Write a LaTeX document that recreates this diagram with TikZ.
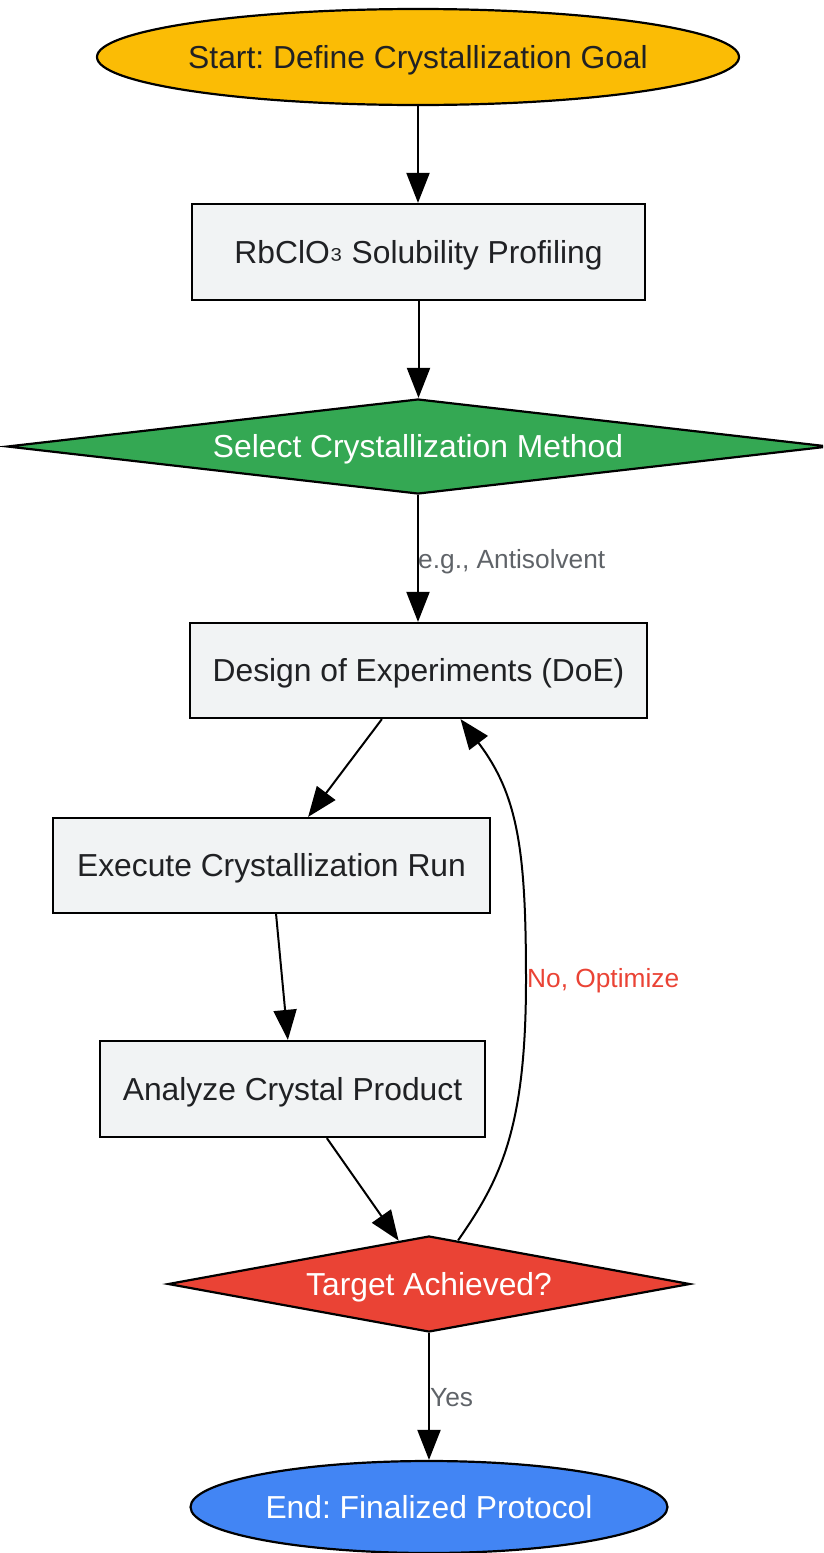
\documentclass[tikz,border=0pt]{standalone}
\usepackage{fontspec}
\setmainfont{Liberation Sans}
\usetikzlibrary{shapes.geometric,arrows.meta,calc}
\frenchspacing
\definecolor{cyellow}{HTML}{FBBC05}
\definecolor{cgreen}{HTML}{34A853}
\definecolor{cred}{HTML}{EA4335}
\definecolor{cblue}{HTML}{4285F4}
\definecolor{cbox}{HTML}{F1F3F4}
\definecolor{ctext}{HTML}{202124}
\definecolor{clabel}{HTML}{5F6368}
\tikzset{
  base/.style={draw=black, line width=2.2pt, inner sep=0pt, font=\fontsize{31.8}{36}\selectfont, text=ctext, text height=22.8pt, text depth=0pt},
  procbox/.style={base, rectangle, fill=cbox},
  term/.style={base, ellipse, inner xsep=-6pt},
  decide/.style={base, diamond},
  conn/.style={draw=black, line width=2pt, -{Triangle[length=30pt,width=23pt]}},
  elabel/.style={font=\fontsize{26.3}{30}\selectfont, text=clabel, anchor=west, inner sep=0pt, text height=18.8pt, text depth=0pt},
}
\begin{document}
\begin{tikzpicture}[x=1pt,y=-1pt]
\path[use as bounding box] (0,0) rectangle (823,1553);
\begin{scope}
\clip (0,0) rectangle (823,1553);
\node[term, fill=cyellow, minimum width=642pt, minimum height=96pt] (st) at (418,57) {Start: Define Crystallization Goal};
\node[procbox, minimum width=453pt, minimum height=96pt] (rb) at (418.5,252) {RbClO\raisebox{4.5pt}{₃} Solubility Profiling};
\node[decide, fill=cgreen, text=white, aspect=8.5, minimum width=822pt, minimum height=95pt] (sel) at (418,446.5) {Select Crystallization Method};
\node[procbox, minimum width=457pt, minimum height=95pt] (doe) at (418.5,670.5) {Design of Experiments (DoE)};
\node[procbox, minimum width=437pt, minimum height=95pt] (ex) at (271.5,865.5) {Execute Crystallization Run};
\node[procbox, minimum width=385pt, minimum height=96pt] (an) at (292.5,1089) {Analyze Crystal Product};
\node[decide, fill=cred, text=white, aspect=5.4, minimum width=522pt, minimum height=96pt] (tg) at (429,1284) {Target Achieved?};
\node[term, fill=cblue, text=white, minimum width=477pt, minimum height=92pt] (en) at (429,1507) {End: Finalized Protocol};
\end{scope}

\draw[conn] (st.south) -- (st.south |- rb.north);
\draw[conn] (rb.south) -- (rb.south |- sel.north);
\draw[conn] (sel.south) -- (sel.south |- doe.north);
\draw[conn] (doe) -- (ex);
\draw[conn] (ex) -- (an);
\draw[conn] (an) -- (tg);
\draw[conn] (tg.south) -- (en.north);

\coordinate (lpstart) at ($(tg.north)!0.111!(tg.east)$);
\coordinate (lpmid) at (526,980);
\coordinate (lpend) at ($(doe.south)+(42,0)$);
\draw[conn] (lpstart) .. controls (500,1180) and (526,1130) .. (lpmid)
  .. controls (526,850) and (518,795) .. (lpend);

\node[elabel] (l1) at (418,559) {e.g., Antisolvent};
\node[elabel, text=cred] (l2) at (527,978) {No, Optimize};
\node[elabel] (l3) at (430,1397) {Yes};
\end{tikzpicture}
\end{document}
